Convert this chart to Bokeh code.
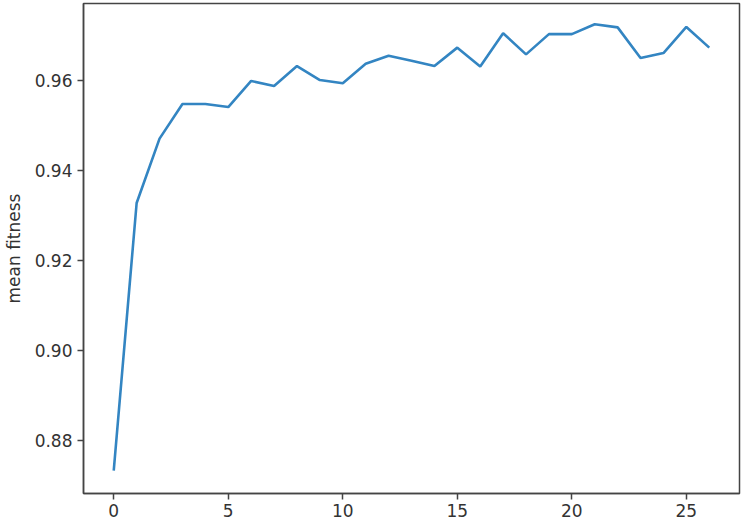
from bokeh.plotting import figure
from bokeh.models import Range1d, FixedTicker, CustomJSTickFormatter
from bokeh.embed import file_html
from bokeh.resources import INLINE

generation = list(range(27))
mean_fitness = [0.8733, 0.9327, 0.9470, 0.9547, 0.9547, 0.9540, 0.9598, 0.9587,
                0.9631, 0.9600, 0.9593, 0.9636, 0.9654, 0.9643, 0.9631, 0.9672,
                0.9630, 0.9704, 0.9657, 0.9702, 0.9702, 0.9724, 0.9717, 0.9649,
                0.9660, 0.9718, 0.9672]
x_ticks = [0, 5, 10, 15, 20, 25]
y_ticks = [0.88, 0.90, 0.92, 0.94, 0.96]

p = figure(frame_width=656, frame_height=490,
           x_range=Range1d(-1.32, 27.32), y_range=Range1d(0.8682, 0.977),
           output_backend="svg", toolbar_location=None,
           min_border_left=75, min_border_right=5, min_border_top=3,
           min_border_bottom=0)

p.line(generation, mean_fitness, line_color="#3385c2", line_width=2.6)

p.xgrid.visible = False
p.ygrid.visible = False
p.outline_line_color = "#444444"
p.outline_line_width = 1.5

p.xaxis.ticker = FixedTicker(ticks=x_ticks)
p.yaxis.ticker = FixedTicker(ticks=y_ticks)
p.yaxis.formatter = CustomJSTickFormatter(code="return tick.toFixed(2);")
p.yaxis.axis_label = "mean fitness"

for ax in (p.xaxis, p.yaxis):
    ax.axis_line_color = "#444444"
    ax.axis_line_width = 1.5
    ax.major_tick_line_color = "#444444"
    ax.major_tick_line_width = 1.5
    ax.major_tick_out = 6
    ax.major_tick_in = 0
    ax.minor_tick_out = 0
    ax.minor_tick_in = 0
    ax.major_label_text_font = "DejaVu Sans"
    ax.major_label_text_font_size = "17px"
    ax.major_label_text_color = "#333333"
    ax.axis_label_text_font = "DejaVu Sans"
    ax.axis_label_text_font_size = "17px"
    ax.axis_label_text_font_style = "normal"
    ax.axis_label_text_color = "#333333"
    ax.axis_label_standoff = 8

p.xaxis.major_label_standoff = 4
p.yaxis.major_label_standoff = 5

open("out.html", "w").write(file_html(p, INLINE))
